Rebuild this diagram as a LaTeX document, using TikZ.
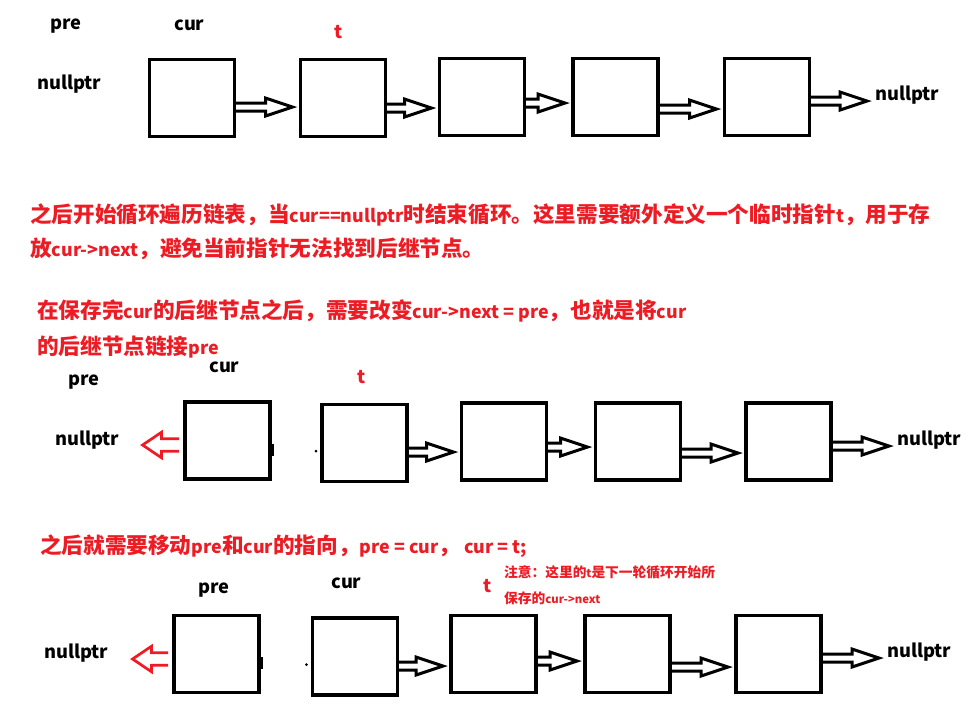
\documentclass[tikz,border=0pt]{standalone}
\usepackage{fontspec}
\setmainfont{Noto Sans CJK SC}[Scale=0.87]
\newfontfamily\latinfont{Noto Sans CJK SC}[Scale=0.87]
\newfontfamily\cjkfont{Noto Sans CJK SC}[Scale=1.055]
% switch to the CJK face for Chinese characters and full-width punctuation
\XeTeXinterchartokenstate=1
\newXeTeXintercharclass\cjkclass
\count255="3000
\loop \XeTeXcharclass\count255=\cjkclass \advance\count255 by 1 \ifnum\count255<"A000 \repeat
\count255="FF00
\loop \XeTeXcharclass\count255=\cjkclass \advance\count255 by 1 \ifnum\count255<"FFF0 \repeat
\XeTeXinterchartoks 0 \cjkclass = {\cjkfont}
\XeTeXinterchartoks 4095 \cjkclass = {\cjkfont}
\XeTeXinterchartoks \cjkclass 0 = {\latinfont}
\XeTeXinterchartoks \cjkclass 4095 = {\latinfont}
\usetikzlibrary{calc}
\definecolor{pered}{HTML}{ED1C24}
\def\shaft{4pt}\def\head{9pt}\def\headlen{27pt}
\newcommand{\fatarrow}[3][]{%
  \draw[fat,#1] let \p1=#2, \p2=#3, \n1={sign(\x2-\x1)} in
    (\x1,\y1+\shaft) -- ({\x2-(\n1)*\headlen},\y1+\shaft) -- ({\x2-(\n1)*\headlen},\y1+\head)
    -- (\x2,\y1) -- ({\x2-(\n1)*\headlen},\y1-\head) -- ({\x2-(\n1)*\headlen},\y1-\shaft)
    -- (\x1,\y1-\shaft);}
\tikzset{
  % --- nodes
  cell/.style = {draw, line width=3.2pt, minimum width=85pt, minimum height=77pt,
                 inner sep=0pt, outer sep=0pt},
  lbl/.style  = {font=\fontsize{21}{24}\selectfont\bfseries, inner sep=0pt, anchor=base west},
  tlbl/.style = {lbl, text=pered},
  para/.style = {lbl, text=pered, font=\fontsize{20.5}{24}\selectfont\bfseries},
  note/.style = {lbl, text=pered, font=\fontsize{13}{16}\selectfont\bfseries},
  % --- edges
  fat/.style  = {draw=black, line width=3pt, line join=miter},
  back/.style = {draw=pered, line width=2.7pt,
                 /utils/exec={\def\shaft{6.3pt}\def\head{12.8pt}\def\headlen{19pt}}},
}
\begin{document}
\begin{tikzpicture}[x=1pt,y=-1pt]
  \useasboundingbox (0,0) rectangle (971,716);
  % --- first list
  \node[cell] (a1) at (192,98) {};
  \node[cell] (a2) at (343,98) {};
  \node[cell] (a3) at (482,97) {};
  \node[cell] (a4) at (615.5,97) {};
  \node[cell] (a5) at (767,97) {};
  \node[lbl]  (pre1) at (50,29) {pre};
  \node[lbl]  (cur1) at (174,30) {cur};
  \node[tlbl] (t1) at (334,38) {t};
  \node[lbl]  (nullL1) at (37,89) {nullptr};
  \node[lbl]  (nullR1) at (875,100) {nullptr};
  \fatarrow{($(a1.east)+(0,9)$)}{($(a2.west)+(-8,0)$)}
  \fatarrow{($(a2.east)+(0,10)$)}{($(a3.west)+(-8,0)$)}
  \fatarrow{($(a3.east)+(0,6)$)}{($(a4.west)+(-8,0)$)}
  \fatarrow{($(a4.east)+(0,12)$)}{($(a5.west)+(-8,0)$)}
  \fatarrow{($(a5.east)+(0,4)$)}{($(nullR1.west)+(-8,0)$)}

  \node[para] (p1a) at (30,222) {之后开始循环遍历链表，当cur==nullptr时结束循环。这里需要额外定义一个临时指针t，用于存};
  \node[para] (p1b) at (30,256) {放cur->next，避免当前指针无法找到后继节点。};
  \node[para] (p2a) at (37,318) {在保存完cur的后继节点之后，需要改变cur->next = pre，也就是将cur};
  \node[para] (p2b) at (37,354) {的后继节点链接pre};

  % --- second list: cur->next = pre
  \node[cell] (b1) at (227.5,440.5) {};
  \node[cell] (b2) at (364.5,443) {};
  \node[cell] (b3) at (504,441.5) {};
  \node[cell] (b4) at (638,441.5) {};
  \node[cell] (b5) at (788.5,441.5) {};
  \node[lbl]  (pre2) at (68,385) {pre};
  \node[lbl]  (cur2) at (209,372) {cur};
  \node[tlbl] (t2) at (357,383) {t};
  \node[lbl]  (nullL2) at (55,445) {nullptr};
  \node[lbl]  (nullR2) at (897,445) {nullptr};
  \fatarrow[back]{($(b1.west)+(-6,4.5)$)}{($(nullL2.east)+(23,0)$)}
  \fatarrow{($(b2.east)+(0,9)$)}{($(b3.west)+(-8,0)$)}
  \fatarrow{($(b3.east)+(0,5.5)$)}{($(b4.west)+(-8,0)$)}
  \fatarrow{($(b4.east)+(0,11.5)$)}{($(b5.west)+(-8,0)$)}
  \fatarrow{($(b5.east)+(0,4.5)$)}{($(nullR2.west)+(-8,0)$)}
  \draw[line width=2pt] ($(b1.east)+(3,3)$) -- ++(0,12);
  \fill ($(b2.west)+(-6,8)$) circle (1.5);

  % --- third list: pre = cur, cur = t
  \node[para] (h3) at (40,553) {之后就需要移动pre和cur的指向，pre = cur， cur = t;};
  \node[note] (n3a) at (504,577) {注意：这里的t是下一轮循环开始所};
  \node[note] (n3b) at (504,603) {保存的cur->next};
  \node[cell] (c1) at (216.5,654) {};
  \node[cell] (c2) at (355,656.5) {};
  \node[cell] (c3) at (493.5,654) {};
  \node[cell] (c4) at (627.5,654) {};
  \node[cell] (c5) at (778.5,654) {};
  \node[lbl]  (pre3) at (198,593) {pre};
  \node[lbl]  (cur3) at (331,588) {cur};
  \node[tlbl] (t3) at (483,592) {t};
  \node[lbl]  (nullL3) at (44,658) {nullptr};
  \node[lbl]  (nullR3) at (887,657) {nullptr};
  \fatarrow[back]{($(c1.west)+(-6,5)$)}{($(nullL3.east)+(24,0)$)}
  \fatarrow{($(c2.east)+(0,9.5)$)}{($(c3.west)+(-8,0)$)}
  \fatarrow{($(c3.east)+(0,7)$)}{($(c4.west)+(-8,0)$)}
  \fatarrow{($(c4.east)+(0,13)$)}{($(c5.west)+(-8,0)$)}
  \fatarrow{($(c5.east)+(0,4)$)}{($(nullR3.west)+(-8,0)$)}
  \draw[line width=2pt] ($(c1.east)+(3,3)$) -- ++(0,12);
  \fill ($(c2.west)+(-6,8)$) circle (1.5);
\end{tikzpicture}
\end{document}
